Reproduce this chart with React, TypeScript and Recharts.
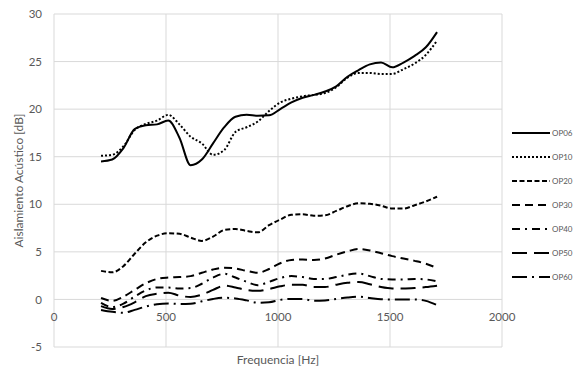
import { LineChart, Line, XAxis, YAxis, CartesianGrid, Legend } from "recharts";

const freqs = [
  210, 260, 310, 360, 410, 460, 510, 560, 610, 660, 710, 760, 810, 860, 910, 960,
  1010, 1060, 1110, 1160, 1210, 1260, 1310, 1360, 1410, 1460, 1510, 1560, 1610, 1660, 1710,
];

const op06 = [
  14.5, 14.7, 15.9, 17.9, 18.3, 18.4, 18.8, 17.0, 14.1, 14.7, 16.4, 18.1, 19.2, 19.4, 19.3, 19.35,
  20.0, 20.7, 21.2, 21.5, 21.85, 22.4, 23.4, 24.1, 24.7, 24.9, 24.4, 24.9, 25.6, 26.5, 28.1,
];
const op10 = [
  15.1, 15.2, 16.1, 17.8, 18.45, 18.8, 19.4, 18.4, 17.1, 16.4, 15.2, 15.7, 17.6, 18.1, 18.7, 19.8,
  20.7, 21.1, 21.35, 21.5, 21.7, 22.3, 23.3, 23.8, 23.8, 23.7, 23.7, 24.2, 24.8, 25.7, 27.2,
];
const op20 = [
  3.0, 2.85, 3.5, 4.8, 6.0, 6.7, 6.95, 6.9, 6.5, 6.15, 6.6, 7.3, 7.4, 7.2, 7.05, 7.8,
  8.4, 8.9, 8.95, 8.8, 8.85, 9.3, 9.8, 10.1, 10.05, 9.85, 9.55, 9.55, 9.9, 10.3, 10.8,
];
const op30 = [
  0.15, -0.15, 0.3, 1.0, 1.7, 2.15, 2.3, 2.35, 2.45, 2.8, 3.15, 3.33, 3.25, 3.0, 2.8, 3.2,
  3.8, 4.15, 4.2, 4.15, 4.3, 4.7, 5.05, 5.3, 5.15, 4.85, 4.55, 4.3, 4.05, 3.75, 3.3,
];
const op40 = [
  -0.35, -0.8, -0.45, 0.3, 0.95, 1.25, 1.25, 1.15, 1.2, 1.65, 2.3, 2.7, 2.3, 1.85, 1.5, 1.85,
  2.25, 2.45, 2.35, 2.15, 2.15, 2.35, 2.6, 2.73, 2.45, 2.15, 2.1, 2.1, 2.15, 2.1, 1.9,
];
const op50 = [
  -0.7, -1.0, -0.8, -0.3, 0.35, 0.6, 0.7, 0.4, 0.25, 0.5, 1.0, 1.45, 1.25, 1.0, 0.9, 1.1,
  1.38, 1.55, 1.55, 1.3, 1.3, 1.55, 1.75, 1.82, 1.6, 1.3, 1.15, 1.15, 1.2, 1.3, 1.45,
];
const op60 = [
  -1.1, -1.3, -1.4, -1.1, -0.75, -0.5, -0.42, -0.48, -0.45, -0.2, 0.05, 0.18, 0.1, -0.1, -0.35, -0.3,
  -0.05, 0.05, 0.05, -0.15, -0.1, 0.05, 0.2, 0.28, 0.15, 0.02, 0.0, 0.0, 0.0, -0.15, -0.6,
];

const seriesNames = ["OP06", "OP10", "OP20", "OP30", "OP40", "OP50", "OP60"];
const seriesValues = [op06, op10, op20, op30, op40, op50, op60];
const dashes = ["", "2 2", "5 2.5", "8 5", "8 5 2 5", "15 7", "15 5 2 5"];

const xTicks = [0, 500, 1000, 1500, 2000];
const yTicks = [-5, 0, 5, 10, 15, 20, 25, 30];

const data = freqs.map((f, i) => {
  const row: Record<string, number> = { f };
  seriesNames.forEach((name, s) => {
    row[name] = seriesValues[s][i];
  });
  return row;
});

const font = "Lato, 'Open Sans', sans-serif";
const textColor = "#595959";

// x labels sit next to the zero line, like Excel does
const XTick = (props: any) => {
  const { x, y, payload } = props;
  return (
    <text x={x} y={y - 26} textAnchor="middle" fill={textColor} fontSize={11.5} fontFamily={font}>
      {payload.value}
    </text>
  );
};

const LegendBox = () => (
  <div style={{ fontFamily: font, fontSize: 8, color: textColor }}>
    {seriesNames.map((name, i) => (
      <div key={name} style={{ display: "flex", alignItems: "center", height: 24 }}>
        <svg width={40} height={6}>
          <line x1={1} y1={3} x2={39} y2={3} stroke="#000" strokeWidth={2} strokeDasharray={dashes[i]} />
        </svg>
        <span style={{ marginLeft: 1 }}>{name}</span>
      </div>
    ))}
  </div>
);

export default function App() {
  return (
    <div style={{ position: "absolute", left: 0, top: 0, background: "#fff" }}>
      <LineChart width={576} height={366} data={data} margin={{ top: 14, right: 74, left: 0, bottom: 0 }}>
        <CartesianGrid stroke="#d9d9d9" strokeWidth={1} />
        <XAxis
          dataKey="f"
          type="number"
          domain={[0, 2000]}
          ticks={xTicks}
          height={19}
          axisLine={false}
          tickLine={false}
          tickSize={0}
          tickMargin={0}
          tick={<XTick />}
          label={{ value: "Frequencia [Hz]", position: "insideBottom", offset: 2, fill: textColor, fontSize: 12, fontFamily: font }}
        />
        <YAxis
          type="number"
          domain={[-5, 30]}
          ticks={yTicks}
          width={54}
          axisLine={false}
          tickLine={false}
          tickSize={0}
          tickMargin={12}
          tick={{ fill: textColor, fontSize: 11.5, fontFamily: font }}
          label={{
            value: "Aislamiento Acústico [dB]",
            angle: -90,
            position: "insideLeft",
            offset: 19,
            fill: textColor,
            fontSize: 12,
            fontFamily: font,
            style: { textAnchor: "middle" },
          }}
        />
        <Legend
          layout="horizontal"
          verticalAlign="middle"
          content={<LegendBox />}
          wrapperStyle={{ position: "absolute", left: 511, top: 121, width: 65 }}
        />
        {seriesNames.map((name, i) => (
          <Line
            key={name}
            dataKey={name}
            type="monotone"
            stroke="#000"
            strokeWidth={2}
            strokeDasharray={dashes[i]}
            dot={false}
            isAnimationActive={false}
          />
        ))}
      </LineChart>
    </div>
  );
}
